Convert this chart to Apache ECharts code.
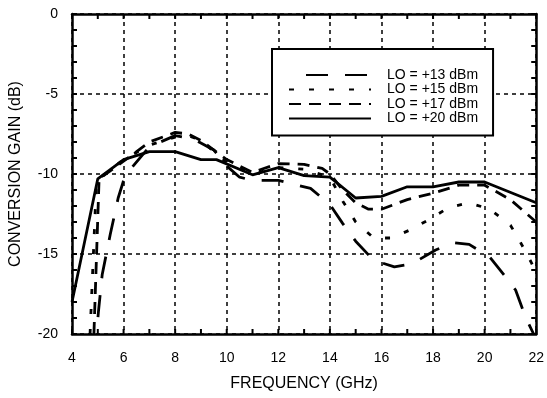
<!DOCTYPE html>
<html>
<head>
<meta charset="utf-8">
<script src="https://cdn.jsdelivr.net/npm/echarts@6/dist/echarts.min.js"></script>
<style>
html, body { margin: 0; padding: 0; background: #fff; }
#chart { width: 547px; height: 398px; }
</style>
</head>
<body>
<div id="chart"></div>
<script>
// 图例名称
var names = ['LO = +13 dBm', 'LO = +15 dBm', 'LO = +17 dBm', 'LO = +20 dBm'];

// [频率 GHz, 变频增益 dB]
var lo13 = [[4.95,-20],[5.02,-18.7],[5.17,-16.3],[5.48,-13.8],[5.79,-11.5],[6.06,-10.1],[7,-8.3],[8,-7.6],[8.7,-7.8],
	[9.5,-8.5],[10,-9.5],[10.5,-10.2],[11,-10.4],[12,-10.4],[12.5,-10.6],[13.25,-10.9],[14,-11.9],[14.5,-13.1],
	[15,-14.2],[15.7,-15.4],[16.5,-15.8],[17.2,-15.6],[18.1,-14.75],[18.8,-14.3],[19.4,-14.4],[20.2,-15.2],
	[20.8,-16.4],[21.2,-17.25],[21.6,-19],[21.9,-20]];
var lo15 = [[4.7,-20],[4.95,-10.4],[6,-9.1],[7,-8.2],[8,-7.7],[8.5,-7.6],[9,-7.9],[10,-9.3],[11,-10],[12,-9.6],
	[13,-9.7],[14,-10.2],[14.5,-11.7],[15,-13],[15.7,-14],[16.4,-14],[17.1,-13.5],[17.9,-12.8],[18.6,-12.1],
	[19.4,-11.8],[20.2,-12.2],[21,-13.2],[21.4,-14.3],[21.8,-15.5],[22,-16.2]];
var lo17 = [[4.85,-20],[5.05,-10.3],[6,-9.2],[7,-8],[8,-7.4],[8.5,-7.5],[9,-7.9],[9.5,-8.5],[10,-9.1],[11,-9.9],
	[12,-9.35],[13,-9.4],[13.7,-9.65],[14,-10],[14.5,-11],[15,-11.8],[15.5,-12.2],[16,-12.2],[17,-11.6],
	[18,-11.2],[19,-10.7],[20,-10.7],[21,-11.6],[22,-13]];
var lo20 = [[4,-18],[5,-10.3],[6,-9.1],[7,-8.6],[8,-8.6],[9,-9.1],[9.6,-9.1],[11,-10.05],[12,-9.6],[13,-10.1],
	[14,-10.2],[15,-11.5],[16,-11.4],[17,-10.8],[18,-10.8],[19,-10.5],[20,-10.5],[22,-11.8]];

var xTicks = [4, 22, 2];   // min, max, 间隔
var yTicks = [-20, 0, 5];

var font = "'Liberation Sans', Arial, Helvetica, sans-serif";
var gridLine = { show: true, lineStyle: { color: '#000', width: 1.5, type: [4, 4] } };
var frame = { show: true, onZero: false, lineStyle: { color: '#000', width: 2.5 } };

function xAxisOf(pos, show) {
	return {
		type: 'value', position: pos, min: xTicks[0], max: xTicks[1], interval: xTicks[2],
		axisLine: frame,
		axisTick: { show: false },
		axisLabel: { show: show, margin: 17, color: '#000', fontSize: 14, fontFamily: font },
		splitLine: show ? gridLine : { show: false },
		name: show ? 'FREQUENCY (GHz)' : '', nameLocation: 'middle', nameGap: 42,
		nameTextStyle: { color: '#000', fontSize: 16, fontFamily: font }
	};
}
function yAxisOf(pos, show) {
	return {
		type: 'value', position: pos, min: yTicks[0], max: yTicks[1], interval: yTicks[2],
		axisLine: frame,
		axisTick: { show: false },
		axisLabel: { show: show, margin: 14, color: '#000', fontSize: 14, fontFamily: font },
		splitLine: show ? gridLine : { show: false },
		name: show ? 'CONVERSION GAIN (dB)' : '', nameLocation: 'middle', nameGap: 48,
		nameTextStyle: { color: '#000', fontSize: 16, fontFamily: font }
	};
}

function lineOf(name, data, dash, offset) {
	return {
		name: name, type: 'line', data: data, symbol: 'none', smooth: false,
		itemStyle: { color: '#000' },
		lineStyle: { color: '#000', width: 2.8, type: dash, dashOffset: offset }, z: 5
	};
}

var myChart = echarts.init(document.getElementById('chart'));
var option = {
	animation: false,
	backgroundColor: '#fff',
	grid: { left: 71, top: 14, width: 469, height: 320 },
	legend: {
		orient: 'vertical', left: 272, top: 49,
		data: names,
		itemWidth: 82, itemHeight: 12, itemGap: 0.5,
		padding: [19, 15, 10, 16],
		borderColor: '#000', borderWidth: 2, backgroundColor: '#fff',
		itemStyle: { opacity: 0 },
		textStyle: { color: '#000', fontSize: 14, lineHeight: 14, fontFamily: font, padding: [0, 0, 0, 11] }
	},
	xAxis: [xAxisOf('bottom', true), xAxisOf('top', false)],
	yAxis: [yAxisOf('left', true), yAxisOf('right', false)],
	series: [
		lineOf(names[0], lo13, [22, 17], 22),
		lineOf(names[1], lo15, [5, 15], 0),
		lineOf(names[2], lo17, [12, 8], 0),
		lineOf(names[3], lo20, 'solid', 0)
	]
};
myChart.setOption(option);

// 四边向内的小刻度（每 1 GHz / 每 1 dB），位置由坐标轴换算
var ticks = [];
var tickStyle = { stroke: '#000', lineWidth: 2 };
for (var v = xTicks[0]; v <= xTicks[1]; v++) {
	var pb = myChart.convertToPixel({ gridIndex: 0 }, [v, yTicks[0]]);
	var pt = myChart.convertToPixel({ gridIndex: 0 }, [v, yTicks[1]]);
	ticks.push({ type: 'line', shape: { x1: pb[0], y1: pb[1], x2: pb[0], y2: pb[1] - 5 }, style: tickStyle, z: 10 });
	ticks.push({ type: 'line', shape: { x1: pt[0], y1: pt[1], x2: pt[0], y2: pt[1] + 5 }, style: tickStyle, z: 10 });
}
for (var w = yTicks[0]; w <= yTicks[1]; w++) {
	var pl = myChart.convertToPixel({ gridIndex: 0 }, [xTicks[0], w]);
	var pr = myChart.convertToPixel({ gridIndex: 0 }, [xTicks[1], w]);
	ticks.push({ type: 'line', shape: { x1: pl[0], y1: pl[1], x2: pl[0] + 5, y2: pl[1] }, style: tickStyle, z: 10 });
	ticks.push({ type: 'line', shape: { x1: pr[0], y1: pr[1], x2: pr[0] - 5, y2: pr[1] }, style: tickStyle, z: 10 });
}
myChart.setOption({ graphic: ticks });
</script>
</body>
</html>
